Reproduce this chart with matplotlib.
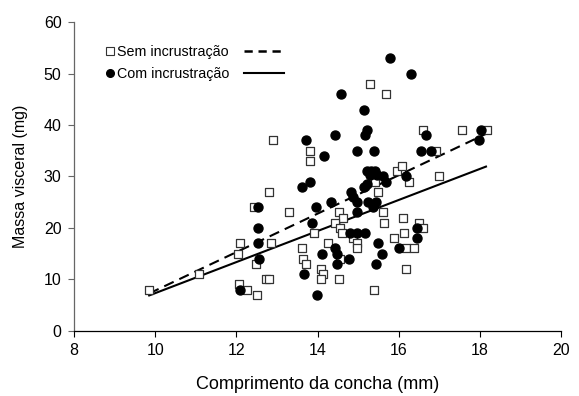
import matplotlib.pyplot as plt
from matplotlib.lines import Line2D

plt.rcParams['font.family'] = ['Liberation Sans', 'DejaVu Sans']

# Sem incrustração (quadrados)
sem_x = [9.85, 11.09, 12.05, 12.10, 12.06, 12.25, 12.50, 12.48, 12.44, 12.85,
         12.72, 12.80, 12.80, 12.91, 13.30, 13.61, 13.65, 13.71, 13.81, 13.81,
         13.91, 14.08, 14.14, 14.08, 14.26, 14.53, 14.62, 14.43, 14.55, 14.59,
         14.55, 14.53, 14.88, 14.98, 14.98, 15.29, 15.68, 15.41, 15.49, 15.62,
         15.64, 15.39, 15.95, 16.07, 16.25, 15.89, 16.10, 16.13, 16.19, 16.38,
         16.19, 16.50, 16.60, 16.60, 16.91, 17.00, 17.56, 18.17]
sem_y = [8, 11, 15, 17, 9, 8, 7, 13, 24, 17,
         10, 10, 27, 37, 23, 16, 14, 13, 35, 33,
         19, 12, 11, 10, 17, 23, 22, 21, 20, 19,
         14, 10, 18, 17, 16, 48, 46, 29, 27, 23,
         21, 8, 31, 32, 29, 18, 22, 19, 16, 16,
         12, 21, 20, 39, 35, 30, 39, 39]

# Com incrustração (círculos)
com_x = [12.10, 12.52, 12.52, 12.52, 12.56, 13.72, 13.62, 13.81, 13.96, 13.87,
         13.67, 13.98, 14.12, 14.17, 14.43, 14.58, 14.43, 14.49, 14.49, 14.78,
         14.32, 14.82, 14.88, 14.98, 14.96, 14.80, 14.98, 15.18, 14.98, 15.39,
         15.14, 15.23, 15.18, 15.79, 16.30, 15.25, 15.44, 15.36, 15.14, 15.22,
         15.22, 15.32, 15.42, 15.30, 15.46, 15.60, 15.68, 16.19, 15.50, 15.58,
         15.44, 16.00, 16.45, 16.45, 16.66, 16.55, 16.79, 18.02, 17.98]
com_y = [8, 24, 20, 17, 14, 37, 28, 29, 24, 21,
         11, 7, 15, 34, 38, 46, 16, 15, 13, 14,
         25, 27, 26, 25, 23, 19, 19, 19, 35, 35,
         43, 39, 38, 53, 50, 25, 25, 24, 28, 28.5,
         31, 31, 31, 30.2, 30.2, 30, 29, 30, 17, 15,
         13, 16, 20, 18, 38, 35, 35, 39, 37]

# retas de regressão (inclinação, intercepto, intervalo de x)
sem_fit = (3.74, -29.6)
com_fit = (3.02, -22.9)
fit_x = [9.85, 18.15]

fig = plt.figure(figsize=(5.79, 3.96), dpi=100)
ax = fig.add_axes([0.128, 0.165, 0.841, 0.779])

ax.plot(fit_x, [sem_fit[0] * v + sem_fit[1] for v in fit_x], color='black',
        linestyle=(0, (5, 3)), linewidth=1.5, zorder=1)
ax.plot(fit_x, [com_fit[0] * v + com_fit[1] for v in fit_x], color='black',
        linestyle='-', linewidth=1.5, zorder=1)

ax.scatter(sem_x, sem_y, marker='s', s=38, facecolors='white',
           edgecolors='#333333', linewidths=0.9, zorder=2)
ax.scatter(com_x, com_y, marker='o', s=42, color='black', zorder=3)

ax.set_xlim(8, 20)
ax.set_ylim(0, 60)
ax.set_xticks(range(8, 21, 2))
ax.set_yticks(range(0, 61, 10))

for side in ['top', 'right']:
    ax.spines[side].set_visible(False)
ax.spines['left'].set_color('#666666')
ax.spines['bottom'].set_color('black')
for side in ['left', 'bottom']:
    ax.spines[side].set_linewidth(0.9)
ax.tick_params(axis='y', color='#666666')
ax.tick_params(direction='out', length=4, labelsize=11.5, pad=5)

ax.set_xlabel('Comprimento da concha (mm)', fontsize=13, labelpad=13)
ax.set_ylabel('Massa visceral (mg)', fontsize=11.5, labelpad=11)

# legenda: marcador + texto, e a reta à direita
mk_handles = [
    Line2D([], [], marker='s', linestyle='none', markersize=5.5,
           markerfacecolor='white', markeredgecolor='#333333', markeredgewidth=0.8),
    Line2D([], [], marker='o', linestyle='none', markersize=5.5, color='black'),
]
leg1 = ax.legend(mk_handles, ['Sem incrustração', 'Com incrustração'],
                 loc='upper left', bbox_to_anchor=(0.055, 0.945), frameon=False,
                 fontsize=10.3, handlelength=0.5, handletextpad=0.25,
                 labelspacing=0.6, borderaxespad=0)
ax.add_artist(leg1)
ln_handles = [
    Line2D([], [], color='black', linestyle=(0, (3.3, 2.3)), linewidth=1.8),
    Line2D([], [], color='black', linestyle='-', linewidth=1.5),
]
ax.legend(ln_handles, ['', ''], loc='upper left', bbox_to_anchor=(0.338, 0.945),
          frameon=False, fontsize=10.3, handlelength=2.8, handletextpad=0,
          labelspacing=0.6, borderaxespad=0)

fig.savefig('out.png', dpi=100)
